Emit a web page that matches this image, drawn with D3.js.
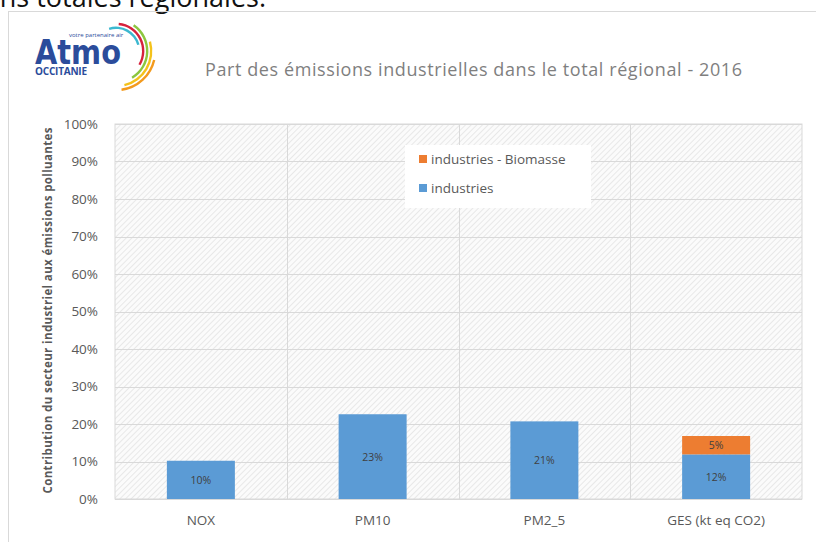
<!DOCTYPE html>
<html>
<head>
<meta charset="utf-8">
<script src="https://cdn.jsdelivr.net/npm/d3@7"></script>
<style>
  body { margin: 0; background: #fff; }
  svg { display: block; }
  text { font-family: "Open Sans", "Noto Sans", sans-serif; }
</style>
</head>
<body>
<div id="myChart"></div>
<script>
let categories = ['NOX', 'PM10', 'PM2_5', 'GES (kt eq CO2)'];
let industries = [0.102, 0.226, 0.207, 0.119];
let biomasse = [0, 0, 0, 0.049];
let yTicks = [0, 0.1, 0.2, 0.3, 0.4, 0.5, 0.6, 0.7, 0.8, 0.9, 1.0];
let seriesNames = ['industries - Biomasse', 'industries'];

const W = 816, H = 542;
const margin = { top: 124, right: 14, bottom: 43, left: 115 };
const width = W - margin.left - margin.right;
const height = H - margin.top - margin.bottom;

let svg = d3.select('#myChart').append('svg')
    .attr('width', W)
    .attr('height', H);

// hatch pattern for the plot area
let defs = svg.append('defs');
let pat = defs.append('pattern')
    .attr('id', 'hatch')
    .attr('patternUnits', 'userSpaceOnUse')
    .attr('width', 4).attr('height', 4)
    .attr('patternTransform', 'rotate(45)');
pat.append('rect').attr('width', 4).attr('height', 4).attr('fill', '#fbfbfb');
pat.append('line').attr('x1', 0).attr('y1', 0).attr('x2', 0).attr('y2', 4)
    .attr('stroke', '#dcdcdc').attr('stroke-width', 1.2);

// cut-off text of the page above the chart
svg.append('text')
    .attr('x', 266).attr('y', 7)
    .attr('text-anchor', 'end')
    .style('font-size', '27px')
    .attr('fill', '#111')
    .text('des émissions totales régionales.');

// outer chart frame
svg.append('rect')
    .attr('x', 8.5).attr('y', 11.5)
    .attr('width', W + 20).attr('height', H + 20)
    .attr('fill', 'none')
    .attr('stroke', '#d9d9d9');

// logo
let logo = svg.append('g').attr('transform', 'translate(22,22)');
logo.append('text').attr('x', 13).attr('y', 42)
    .style('font-family', '"DejaVu Sans", sans-serif')
    .style('font-weight', 'bold').style('font-size', '33px')
    .attr('fill', '#2b4c9b')
    .attr('textLength', 86).attr('lengthAdjust', 'spacingAndGlyphs')
    .text('Atmo');
logo.append('text').attr('x', 47).attr('y', 15)
    .style('font-size', '6px').attr('fill', '#2b4c9b')
    .text('votre partenaire air');
logo.append('text').attr('x', 13).attr('y', 53)
    .style('font-weight', 'bold').style('font-size', '10px')
    .attr('fill', '#2b4c9b').attr('textLength', 52)
    .text('OCCITANIE');
let arcs = [
    { r: 22, s: -0.3, e: 1.3, c: '#3cb8d0' },
    { r: 26, s: 0.1, e: 2.1, c: '#d6213c' },
    { r: 30, s: 0.6, e: 2.6, c: '#8cc63f' },
    { r: 34, s: 1.3, e: 2.9, c: '#f4c21b' },
    { r: 38, s: 1.8, e: 3.0, c: '#f39a1d' }
];
logo.selectAll('path.arc').data(arcs).enter().append('path')
    .attr('class', 'arc')
    .attr('transform', 'translate(94,29)')
    .attr('d', d => d3.arc().innerRadius(d.r).outerRadius(d.r + 2.4)
        .startAngle(d.s).endAngle(d.e)())
    .attr('fill', d => d.c);

// title
svg.append('text')
    .attr('x', 205).attr('y', 76)
    .style('font-size', '18px')
    .attr('fill', '#7f7f7f')
    .attr('textLength', 537)
    .text('Part des émissions industrielles dans le total régional - 2016');

let g = svg.append('g')
    .attr('transform', 'translate(' + margin.left + ',' + margin.top + ')');

let x = d3.scaleBand().domain(categories).range([0, width]).padding(0);
let y = d3.scaleLinear().domain([0, 1]).range([height, 0]);

g.append('rect')
    .attr('width', width).attr('height', height)
    .attr('fill', 'url(#hatch)')
    .attr('stroke', '#d9d9d9');

// horizontal gridlines
g.selectAll('.hgrid').data(yTicks).enter().append('line')
    .attr('class', 'hgrid')
    .attr('x1', 0).attr('x2', width)
    .attr('y1', d => Math.round(y(d)) + 0.5)
    .attr('y2', d => Math.round(y(d)) + 0.5)
    .attr('stroke', '#d9d9d9');

// vertical gridlines between categories
g.selectAll('.vgrid').data(categories.slice(1)).enter().append('line')
    .attr('class', 'vgrid')
    .attr('x1', d => Math.round(x(d)) + 0.5)
    .attr('x2', d => Math.round(x(d)) + 0.5)
    .attr('y1', 0).attr('y2', height)
    .attr('stroke', '#d9d9d9');

// y axis labels
let yAxis = g.append('g')
    .call(d3.axisLeft(y).tickValues(yTicks).tickFormat(d3.format('.0%')).tickSize(0).tickPadding(17));
yAxis.select('.domain').remove();
yAxis.selectAll('text')
    .style('font-family', '"Open Sans", sans-serif')
    .style('font-size', '13.5px')
    .attr('fill', '#595959');

// x axis labels
let xAxis = g.append('g')
    .attr('transform', 'translate(0,' + height + ')')
    .call(d3.axisBottom(x).tickSize(0).tickPadding(16));
xAxis.select('.domain').remove();
xAxis.selectAll('text')
    .style('font-family', '"Open Sans", sans-serif')
    .style('font-size', '13.5px')
    .attr('fill', '#595959');

// y axis title
g.append('text')
    .attr('transform', 'rotate(-90)')
    .attr('x', -height / 2 + 1)
    .attr('y', -63)
    .style('text-anchor', 'middle')
    .style('font-weight', 'bold')
    .style('font-size', '11.5px')
    .attr('fill', '#595959')
    .attr('textLength', 366)
    .text('Contribution du secteur industriel aux émissions polluantes');

// bars
let barW = 68;
let data = categories.map((c, i) => ({ cat: c, ind: industries[i], bio: biomasse[i] }));

g.selectAll('.bar').data(data).enter().append('rect')
    .attr('class', 'bar')
    .attr('x', d => x(d.cat) + x.bandwidth() / 2 - barW / 2)
    .attr('width', barW)
    .attr('y', d => y(d.ind))
    .attr('height', d => height - y(d.ind))
    .attr('fill', '#5b9bd5');

g.selectAll('.bar-bio').data(data.filter(d => d.bio > 0)).enter().append('rect')
    .attr('class', 'bar-bio')
    .attr('x', d => x(d.cat) + x.bandwidth() / 2 - barW / 2)
    .attr('width', barW)
    .attr('y', d => y(d.ind + d.bio))
    .attr('height', d => y(d.ind) - y(d.ind + d.bio))
    .attr('fill', '#ed7d31');

let fmt = d3.format('.0%');
g.selectAll('.bar-text').data(data).enter().append('text')
    .attr('class', 'bar-text')
    .attr('x', d => x(d.cat) + x.bandwidth() / 2)
    .attr('y', d => (y(d.ind) + height) / 2 + 4)
    .style('text-anchor', 'middle')
    .style('font-size', '10.5px')
    .attr('fill', '#404040')
    .text(d => fmt(d.ind));

g.selectAll('.bio-text').data(data.filter(d => d.bio > 0)).enter().append('text')
    .attr('class', 'bio-text')
    .attr('x', d => x(d.cat) + x.bandwidth() / 2)
    .attr('y', d => (y(d.ind) + y(d.ind + d.bio)) / 2 + 4)
    .style('text-anchor', 'middle')
    .style('font-size', '10.5px')
    .attr('fill', '#404040')
    .text(d => fmt(d.bio));

// legend
let legend = svg.append('g').attr('transform', 'translate(405,145)');
legend.append('rect')
    .attr('width', 186).attr('height', 63)
    .attr('fill', '#fff');
let legColors = ['#ed7d31', '#5b9bd5'];
seriesNames.forEach((name, i) => {
    legend.append('rect')
        .attr('x', 14).attr('y', 10 + i * 29)
        .attr('width', 8).attr('height', 8)
        .attr('fill', legColors[i]);
    legend.append('text')
        .attr('x', 26).attr('y', 19 + i * 29)
        .style('font-size', '13.5px')
        .attr('fill', '#595959')
        .text(name);
});
</script>
</body>
</html>
